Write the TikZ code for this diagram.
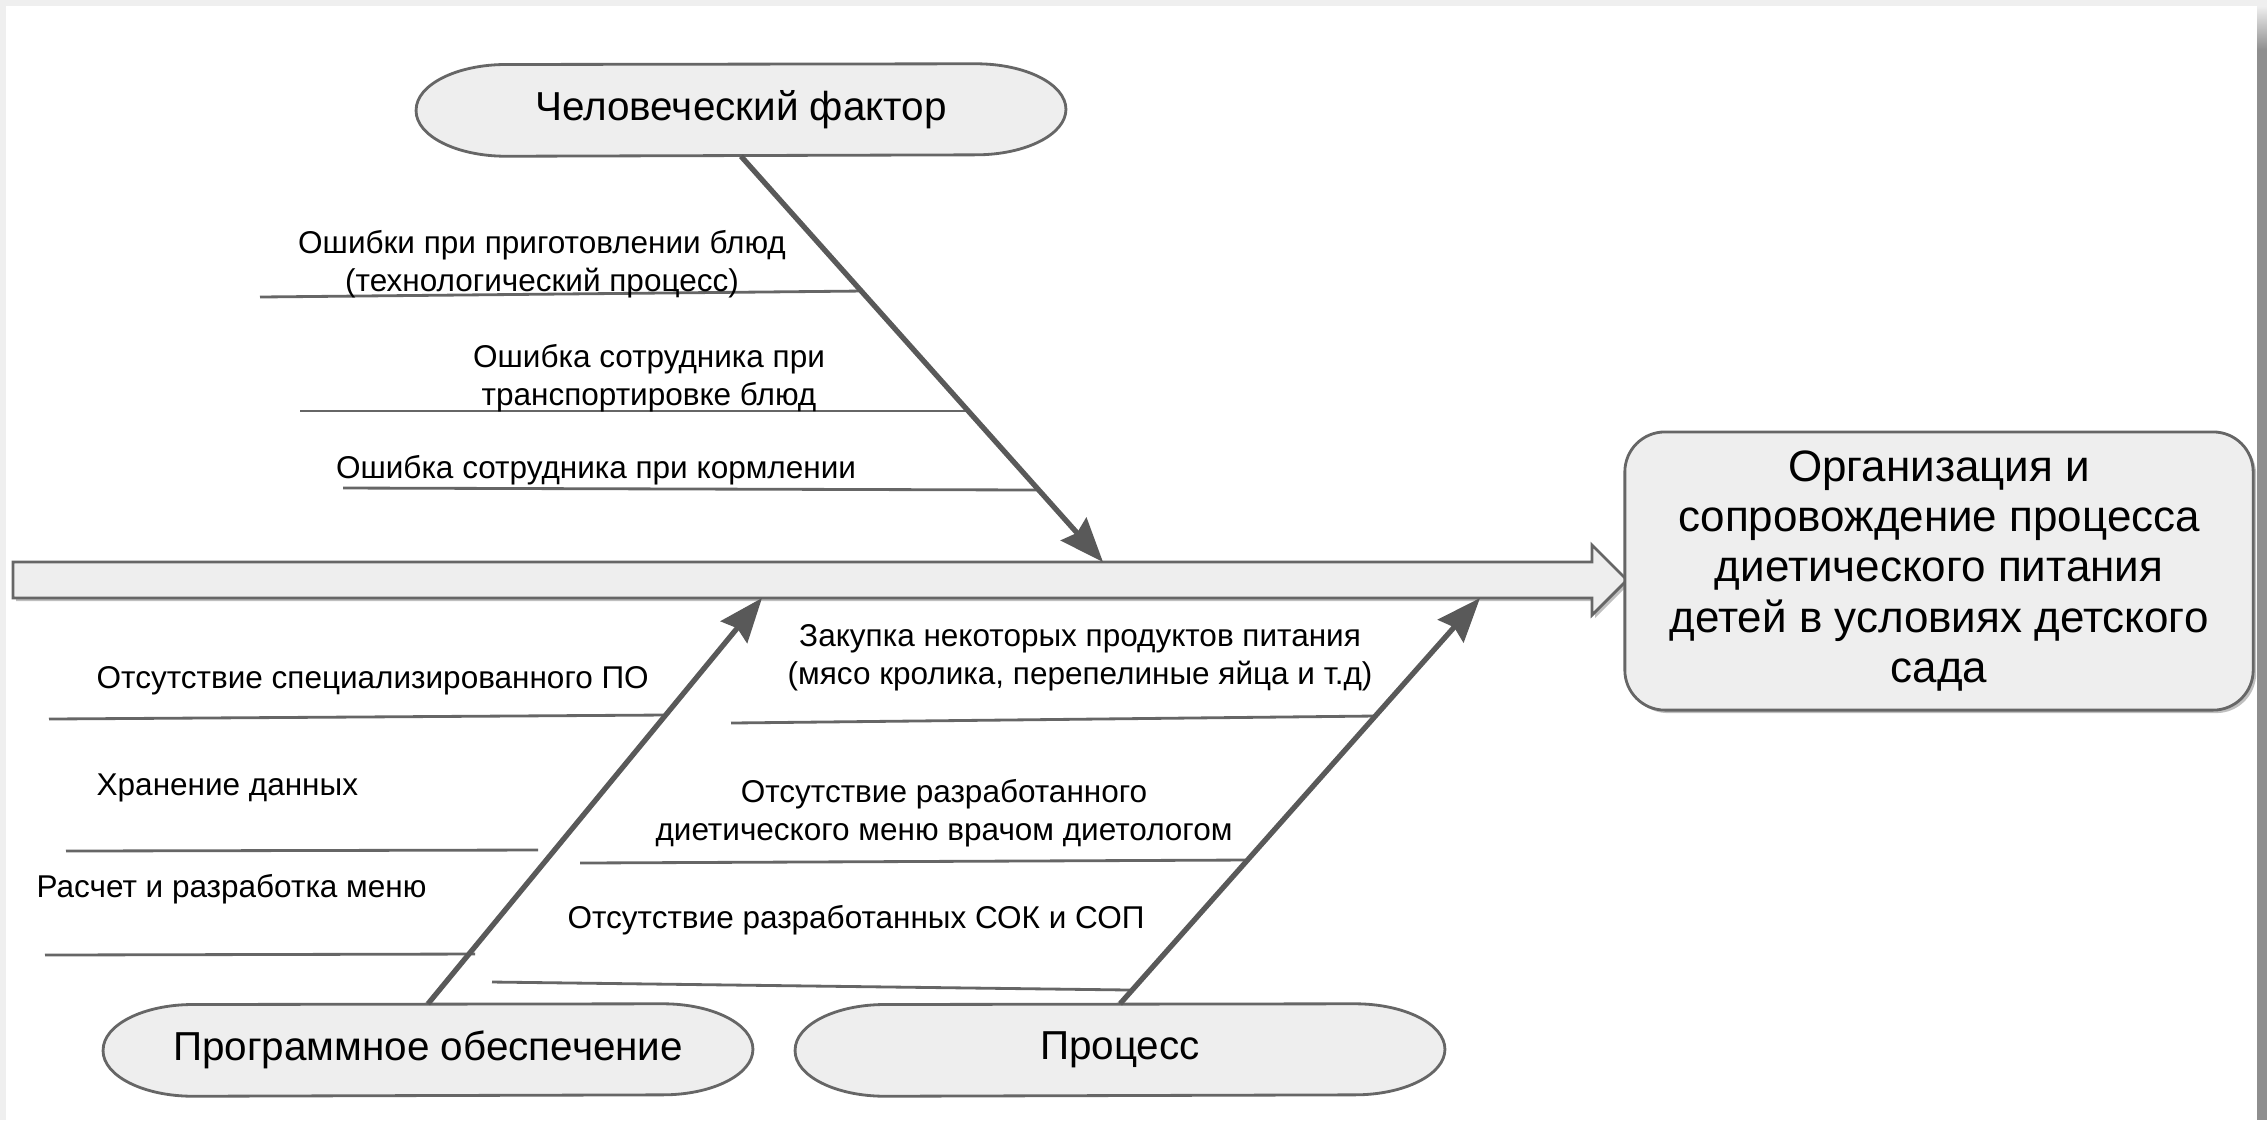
\documentclass[tikz,border=0pt]{standalone}
\usepackage{fontspec}
\setmainfont{Liberation Sans}
\usetikzlibrary{arrows.meta,calc,shadows}
\pgfdeclarelayer{bg}
\pgfsetlayers{bg,main}
\definecolor{fillg}{HTML}{EEEEEE}
\definecolor{strk}{HTML}{666666}
\definecolor{bonec}{HTML}{595959}
\definecolor{ribc}{HTML}{666666}
\definecolor{pageg}{HTML}{EFEFEF}
\definecolor{edgeg}{HTML}{8E8E8E}
\tikzset{
  softshadow/.style={drop shadow={shadow xshift=0.03cm, shadow yshift=-0.03cm, opacity=0.25, fill=black}},
  capsule/.style={minimum width=6.48cm, minimum height=0.91cm, inner sep=0pt, font=\fontsize{11.5}{13.8}\selectfont},
  capline/.style={draw=strk, fill=fillg, line width=0.8pt, line join=round},
  capshadow/.style={fill=black, fill opacity=0.22, draw=none},
  bone/.style={draw=bonec, line width=1.5pt, -{Stealth[length=0.44cm, width=0.34cm, inset=0.05cm]}},
  rib/.style={draw=ribc, line width=0.8pt},
  lbl/.style={inner sep=0pt, font=\fontsize{8.96}{10.75}\selectfont, align=center},
  goalbox/.style={draw=strk, fill=fillg, rounded corners=0.4cm, line width=0.8pt, minimum width=6.28cm, minimum height=2.78cm, align=center, inner sep=0pt, font=\fontsize{12.5}{14.3}\selectfont, softshadow},
  spine/.style={draw=strk, fill=fillg, line width=0.8pt, softshadow},
}
\newcommand\capsulepath[2]{%
  \path[#2] (#1.west)
    arc[start angle=180, end angle=90, x radius=0.9cm, y radius=0.455cm]
    -- ($(#1.north east)+(-90,0)$)
    arc[start angle=90, end angle=-90, x radius=0.9cm, y radius=0.455cm]
    -- ($(#1.south west)+(90,0)$)
    arc[start angle=270, end angle=180, x radius=0.9cm, y radius=0.455cm] -- cycle;}
\newcommand\capsuleoutline[1]{%
  \begin{scope}[shift={(3,3)}]\capsulepath{#1}{capshadow}\end{scope}%
  \capsulepath{#1}{capline}}
\begin{document}
\begin{tikzpicture}[x=0.01cm, y=-0.01cm]
\useasboundingbox (0,0) rectangle (2267,1120);
\begin{pgfonlayer}{bg}
  \fill[pageg] (0,0) rectangle (2267,1120);
  \fill[white] (6,6) rectangle (2257,1120);
  \shade[top color=pageg, bottom color=edgeg] (2257,6) rectangle (2267,50);
  \fill[edgeg] (2257,50) rectangle (2267,1120);
\end{pgfonlayer}

% category nodes
\node[capsule] (hf) at (741,110) {Человеческий фактор};
\node[capsule] (po) at (428,1050) {Программное обеспечение};
\node[capsule] (pr) at (1120,1050) {Процесс};
\begin{pgfonlayer}{bg}
  \capsuleoutline{hf}
  \capsuleoutline{po}
  \capsuleoutline{pr}
\end{pgfonlayer}

% spine arrow
\draw[spine] (13,562) -- (1592,562) -- (1592,545) -- (1627,580) -- (1592,615) -- (1592,598) -- (13,598) -- cycle;
\coordinate (t1) at (1103,562);
\coordinate (t2) at (762,598);
\coordinate (t3) at (1480,598);

% effect box
\node[goalbox] (goal) at (1939,571) {Организация и\\сопровождение процесса\\диетического питания\\детей в условиях детского\\сада};

% ribs
\coordinate (r1a) at (260,297); \coordinate (r1b) at (863,291);
\coordinate (r2a) at (300,411); \coordinate (r2b) at (969,411);
\coordinate (r3a) at (343,488); \coordinate (r3b) at (1038,490);
\coordinate (rAa) at (49,719);  \coordinate (rAb) at (664,715);
\coordinate (rBa) at (66,851);  \coordinate (rBb) at (538,850);
\coordinate (rCa) at (45,955);  \coordinate (rCb) at (475,954);
\coordinate (rDa) at (731,723); \coordinate (rDb) at (1374,716);
\coordinate (rEa) at (580,863); \coordinate (rEb) at (1245,860);
\coordinate (rFa) at (492,982); \coordinate (rFb) at (1130,990);
\foreach \r in {1,2,3,A,B,C,D,E,F} {\draw[rib] (r\r a) -- (r\r b);}

% bones
\draw[bone] (hf.south) -- (t1);
\draw[bone] (po.north) -- (t2);
\draw[bone] (pr.north) -- (t3);

% labels
\node[lbl, anchor=north] (l1) at (542,230) {Ошибки при приготовлении блюд\\(технологический процесс)};
\node[lbl, anchor=north] (l2) at (649,344) {Ошибка сотрудника при\\транспортировке блюд};
\node[lbl, anchor=base] (l3) at (596,478) {Ошибка сотрудника при кормлении};
\node[lbl, anchor=base west] (lA) at (96,688) {Отсутствие специализированного ПО};
\node[lbl, anchor=base west] (lB) at (96,795) {Хранение данных};
\node[lbl, anchor=base west] (lC) at (36,897) {Расчет и разработка меню};
\node[lbl, anchor=north] (lD) at (1080,624) {Закупка некоторых продуктов питания\\(мясо кролика, перепелиные яйца и т.д)};
\node[lbl, anchor=north] (lE) at (944,779) {Отсутствие разработанного\\диетического меню врачом диетологом};
\node[lbl, anchor=base] (lF) at (856,928) {Отсутствие разработанных СОК и СОП};
\end{tikzpicture}
\end{document}
